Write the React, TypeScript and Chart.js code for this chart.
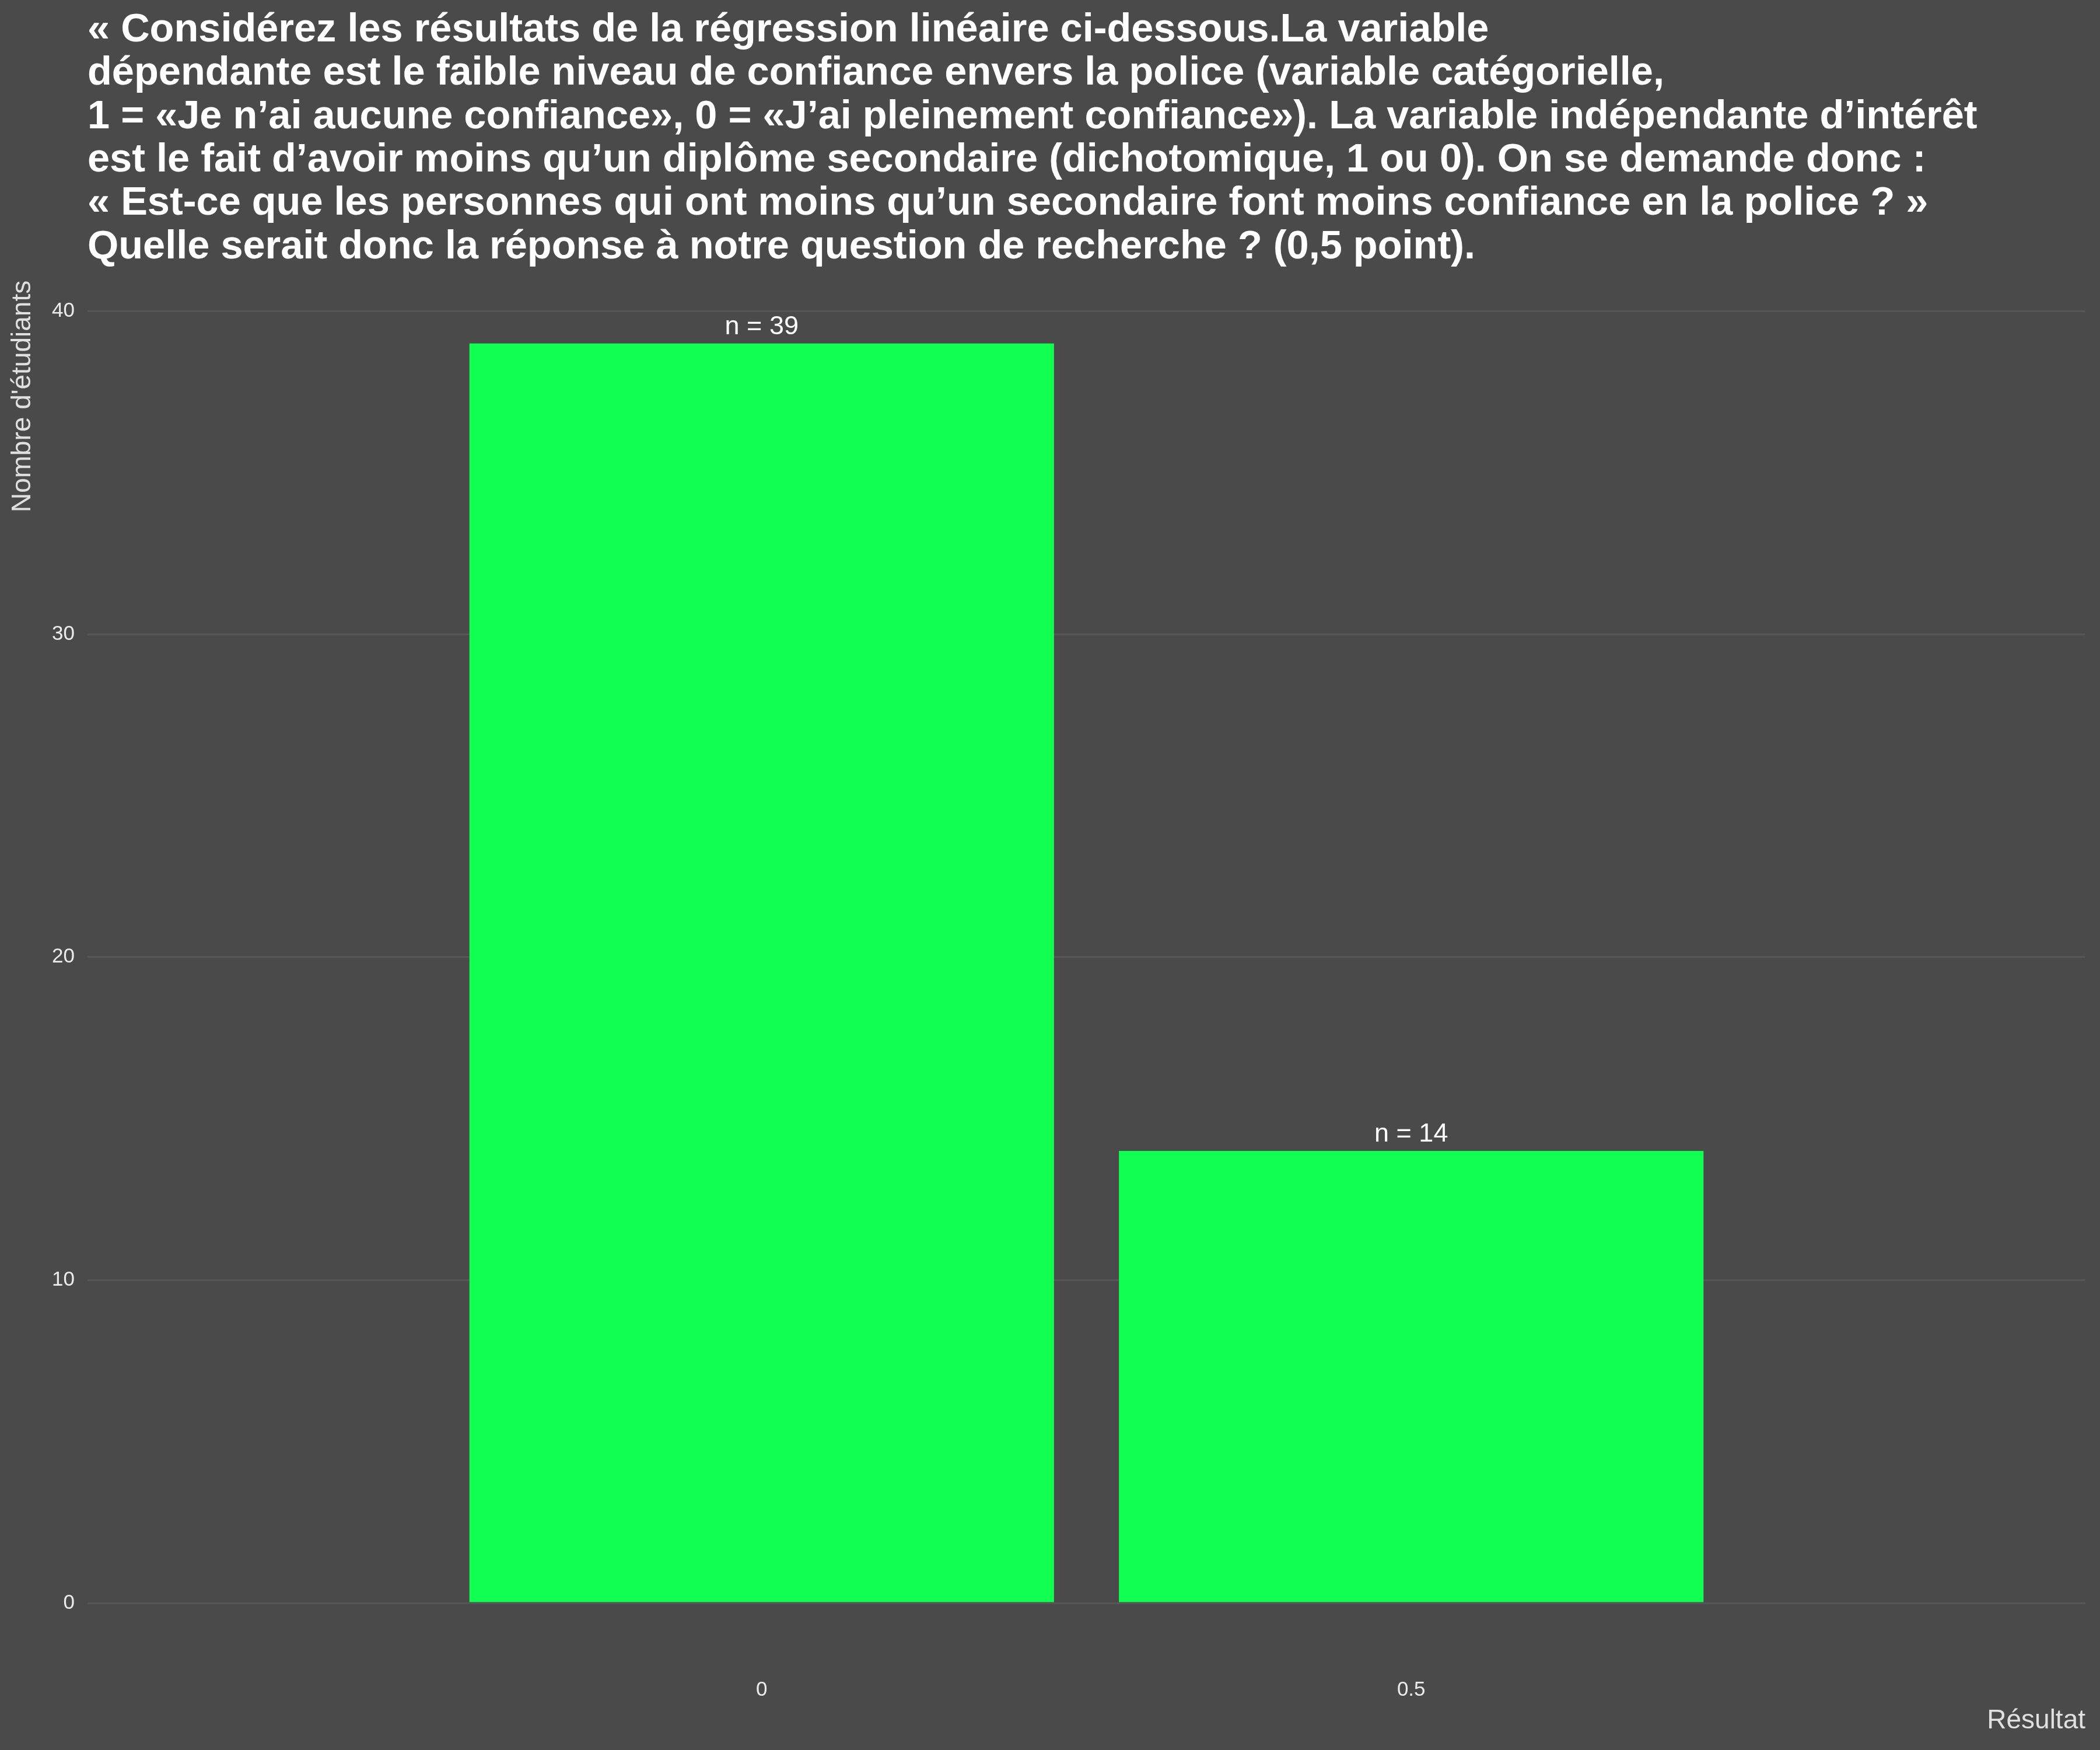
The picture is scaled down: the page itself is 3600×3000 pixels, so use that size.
import React, { useEffect, useRef } from "react";
import { Chart, registerables } from "chart.js";

Chart.register(...registerables);

const titleLines = [
  "« Considérez les résultats de la régression linéaire ci-dessous.La variable",
  "dépendante est le faible niveau de confiance envers la police (variable catégorielle,",
  "1 = «Je n’ai aucune confiance», 0 = «J’ai pleinement confiance»). La variable indépendante d’intérêt",
  "est le fait d’avoir moins qu’un diplôme secondaire (dichotomique, 1 ou 0). On se demande donc :",
  "« Est-ce que les personnes qui ont moins qu’un secondaire font moins confiance en la police ? »",
  "Quelle serait donc la réponse à notre question de recherche ? (0,5 point).",
];
const categories = [0, 0.5];
const counts = [39, 14];
const barLabels = ["n = 39", "n = 14"];
const xTicks = [0, 0.5];
const yTicks = [0, 10, 20, 30, 40];
const xTitle = "Résultat";
const yTitle = "Nombre d'étudiants";

const BG = "#4a4a4a";
const FONT = "'Liberation Sans', Arial, Helvetica, sans-serif";

const bgPlugin = {
  id: "bgFill",
  beforeDraw(chart: any) {
    const { ctx, width, height } = chart;
    ctx.save();
    ctx.fillStyle = BG;
    ctx.fillRect(0, 0, width, height);
    ctx.restore();
  },
};

const labelPlugin = {
  id: "barLabels",
  afterDatasetsDraw(chart: any) {
    const { ctx } = chart;
    const meta = chart.getDatasetMeta(0);
    ctx.save();
    ctx.fillStyle = "#ffffff";
    ctx.font = `45px ${FONT}`;
    ctx.textAlign = "center";
    ctx.textBaseline = "alphabetic";
    meta.data.forEach((bar: any, i: number) => {
      ctx.fillText(barLabels[i], bar.x, bar.y - 16);
    });
    ctx.restore();
  },
};

export default function App() {
  const ref = useRef<HTMLCanvasElement | null>(null);
  useEffect(() => {
    document.body.style.margin = "0";
    document.body.style.background = BG;
    const canvas = ref.current!;
    const chart = new Chart(canvas, {
      type: "bar",
      data: {
        datasets: [
          {
            data: categories.map((c, i) => ({ x: c, y: counts[i] })),
            backgroundColor: "#10ff50",
            borderWidth: 0,
            categoryPercentage: 1,
            barPercentage: 0.9,
          },
        ],
      },
      options: {
        responsive: false,
        animation: false,
        devicePixelRatio: 1,
        layout: { padding: { left: 0, right: 25, top: 0, bottom: 0 } },
        plugins: {
          legend: { display: false },
          tooltip: { enabled: false },
          title: {
            display: true,
            text: titleLines,
            align: "start",
            fullSize: false,
            color: "#ffffff",
            font: { family: FONT, size: 68.5, weight: "bold", lineHeight: 74.3 / 68.5 },
            padding: { top: 15, bottom: 20 },
          },
        },
        scales: {
          x: {
            type: "linear",
            min: -0.519,
            max: 1.019,
            offset: false,
            afterBuildTicks: (s: any) => {
              s.ticks = xTicks.map((v) => ({ value: v }));
            },
            afterFit: (s: any) => {
              s.height = 144;
            },
            grid: { display: false, drawTicks: false },
            border: { display: false },
            ticks: {
              color: "#ebebeb",
              font: { family: FONT, size: 35 },
              padding: 20,
              autoSkip: false,
              maxRotation: 0,
              callback: (v: any) => String(v),
            },
            title: {
              display: true,
              text: xTitle,
              align: "end",
              color: "#e0e0e0",
              font: { family: FONT, size: 46 },
              padding: { top: 0, bottom: 22 },
            },
          },
          y: {
            type: "linear",
            min: -1.95,
            max: 40.95,
            afterBuildTicks: (s: any) => {
              s.ticks = yTicks.map((v) => ({ value: v }));
            },
            afterFit: (s: any) => {
              s.width = 150;
            },
            grid: { color: "#565656", lineWidth: 3, drawTicks: false },
            border: { display: false },
            ticks: {
              color: "#ebebeb",
              font: { family: FONT, size: 35 },
              padding: 22,
              callback: (v: any) => String(v),
            },
            title: {
              display: true,
              text: yTitle,
              align: "end",
              color: "#e0e0e0",
              font: { family: FONT, size: 46 },
              padding: { top: 12, bottom: 0 },
            },
          },
        },
      },
      plugins: [bgPlugin, labelPlugin],
    } as any);
    return () => chart.destroy();
  }, []);
  return (
    <div style={{ width: 3600, height: 3000, background: BG }}>
      <canvas ref={ref} width={3600} height={3000} style={{ width: 3600, height: 3000, display: "block" }} />
    </div>
  );
}
